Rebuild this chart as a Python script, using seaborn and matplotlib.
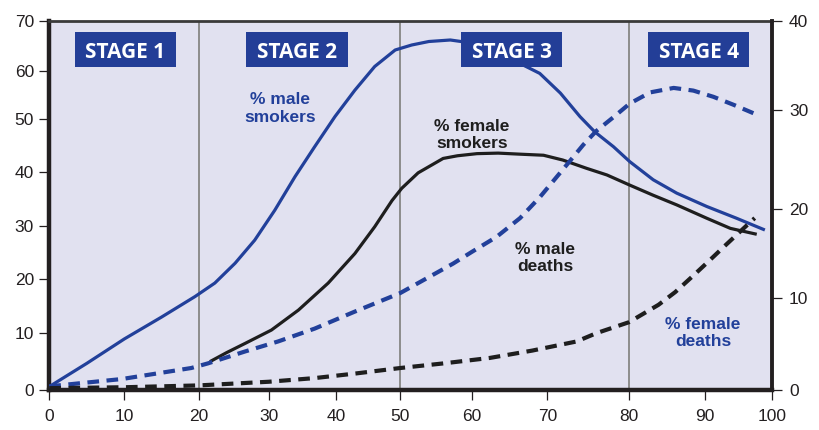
import numpy as np
import pandas as pd
import matplotlib
matplotlib.use("Agg")
import matplotlib.pyplot as plt
import seaborn as sns
from matplotlib.patches import Rectangle

# ---------------- data ----------------
male_smokers_x = [0, 5, 10, 15, 19.5, 22.3, 25.2, 28.0, 30.9, 33.9, 36.8, 39.8, 42.9, 46.0, 49.2, 51.6, 54, 57, 60, 62, 64, 66.4,
                  69.0, 71.6, 74.0, 75.8, 78.1, 80.1, 83.2, 86.3, 90.3, 94.7, 98.9]
male_smokers_y = [0.6, 4.7, 9.0, 13.0, 16.8, 19.3, 23.0, 27.3, 32.9, 39.2, 44.8, 50.5, 56.0, 60.9, 64.2, 65.2, 65.9, 66.2, 65.6, 64.8, 63.6, 61.5,
                  59.5, 55.4, 50.5, 47.6, 44.8, 42.0, 38.6, 36.1, 33.6, 31.4, 29.2]

female_smokers_x = [21.6, 24, 26.6, 30.4, 34.4, 38.8, 42.9, 46.0, 48.7, 50.2, 52.5, 56, 58, 60.7, 63.5, 66.4, 69.5, 71.9, 74.8, 77.3,
                    80.1, 83.2, 86.3, 90.3, 93.8, 97.7]
female_smokers_y = [5.0, 6.6, 8.2, 10.6, 14.3, 19.3, 24.8, 29.8, 34.7, 37.0, 39.9, 42.6, 43.1, 43.5, 43.6, 43.4, 43.2, 42.3, 40.75, 39.5,
                    37.6, 35.7, 33.9, 31.4, 29.5, 28.4]

male_deaths_x = [0, 9.7, 19, 21.3, 26.6, 31.4, 36.8, 42.7, 50, 57.4, 60, 63.3, 66.4, 69.0, 71.9, 74.4, 76.0, 78.1, 80.1, 82.8, 85.9,
                 88.5, 91.3, 94.3, 97.2]
male_deaths_y = [0.4, 1.2, 2.4, 2.9, 4.2, 5.3, 6.7, 8.5, 10.6, 13.9, 15.2, 16.9, 19.0, 21.2, 24.0, 26.5, 27.9, 29.3, 30.75, 32.0, 32.5,
                 32.2, 31.5, 30.6, 29.7]

female_deaths_x = [0, 10, 20, 25, 30, 36.8, 43, 50, 56, 62.4, 68, 73.6, 76, 80, 83.9, 86.1, 88.3, 90.5, 93, 95.4, 97.4]
female_deaths_y = [0.2, 0.3, 0.5, 0.7, 0.9, 1.3, 1.8, 2.4, 2.9, 3.5, 4.3, 5.3, 6.2, 7.4, 9.3, 10.7, 12.4, 14.1, 15.9, 17.6, 19.0]

x_ticks = [0, 10, 20, 30, 40, 50, 60, 70, 80, 90, 100]
left_ticks = [0, 10, 20, 30, 40, 50, 60, 70]
right_ticks = [0, 10, 20, 30, 40]
stage_lines = [20, 50, 80]
stage_labels = ["STAGE 1", "STAGE 2", "STAGE 3", "STAGE 4"]

# ---------------- style / layout ----------------
BLUE = "#22409A"
BOX = "#233E97"
BLACK = "#1E1E1E"
BG = "#E1E1F0"

# the printed axes are hand-drawn with uneven tick spacing: pixel positions of ticks
x_tick_px = [49.3, 124.3, 198.7, 268.7, 336.3, 400.3, 471.7, 547.3, 629.0, 704.7, 772.3]
left_tick_h = [0, 56.7, 110.7, 164.3, 217.7, 271.0, 319.0, 369.0]
right_tick_h = [0, 91.7, 181.0, 280.0, 369.3]


def piecewise(src, dst):
    src = np.asarray(src, float)
    dst = np.asarray(dst, float)
    s0 = (dst[1] - dst[0]) / (src[1] - src[0])
    s1 = (dst[-1] - dst[-2]) / (src[-1] - src[-2])
    xs = np.r_[src[0] - 1e4, src, src[-1] + 1e4]
    ys = np.r_[dst[0] - 1e4 * s0, dst, dst[-1] + 1e4 * s1]
    return lambda v: np.interp(np.asarray(v, float), xs, ys)


sns.set_style("ticks")
plt.rcParams["font.family"] = ["Liberation Sans", "DejaVu Sans"]

fig = plt.figure(figsize=(8.2, 4.3), dpi=100)
ax = fig.add_axes([49.3 / 820, 40 / 430, 723 / 820, 369 / 430])
ax.set_xscale("function", functions=(piecewise(x_ticks, x_tick_px), piecewise(x_tick_px, x_ticks)))
ax.set_yscale("function", functions=(piecewise(left_ticks, left_tick_h), piecewise(left_tick_h, left_ticks)))
ax.set_facecolor(BG)

ax2 = ax.twinx()
ax2.set_yscale("function", functions=(piecewise(right_ticks, right_tick_h), piecewise(right_tick_h, right_ticks)))

for xv in stage_lines:
    ax.axvline(xv, color="#8C8C8C", lw=1.4, zorder=1)

ms = pd.DataFrame({"x": male_smokers_x, "y": male_smokers_y})
fs = pd.DataFrame({"x": female_smokers_x, "y": female_smokers_y})
md = pd.DataFrame({"x": male_deaths_x, "y": male_deaths_y})
fd = pd.DataFrame({"x": female_deaths_x, "y": female_deaths_y})

solid_kw = dict(lw=2.3, errorbar=None, zorder=3, solid_joinstyle="round", solid_capstyle="butt")
dash_kw = dict(lw=3.0, errorbar=None, zorder=3, linestyle=(0, (2.8, 1.8)), dash_joinstyle="round")
sns.lineplot(data=ms, x="x", y="y", ax=ax, color=BLUE, **solid_kw)
sns.lineplot(data=fs, x="x", y="y", ax=ax, color=BLACK, **solid_kw)
sns.lineplot(data=md, x="x", y="y", ax=ax2, color=BLUE, **dash_kw)
sns.lineplot(data=fd, x="x", y="y", ax=ax2, color=BLACK, **dash_kw)

ax.set_xlim(0, 100)
ax.set_ylim(0, 70)
ax2.set_ylim(0, 40)
ax.set_xticks(x_ticks)
ax.set_xticklabels([str(t) for t in x_ticks])
ax.set_yticks(left_ticks)
ax.set_yticklabels([str(t) for t in left_ticks])
ax2.set_yticks(right_ticks)
ax2.set_yticklabels([str(t) for t in right_ticks])
ax.minorticks_off()
ax2.minorticks_off()
ax.set_xlabel("")
ax.set_ylabel("")
ax2.set_ylabel("")

tick_c = "#231F20"
ax.tick_params(axis="x", direction="out", length=7, width=0.9, pad=7, labelsize=12.5, colors=tick_c)
ax.tick_params(axis="y", direction="out", length=7, width=0.9, pad=4, labelsize=12.5, colors=tick_c)
ax2.tick_params(axis="y", direction="out", length=7, width=0.9, pad=5, labelsize=12.5, colors=tick_c)

for s in ["left", "bottom"]:
    ax.spines[s].set_linewidth(3.2)
    ax.spines[s].set_color(tick_c)
ax.spines["top"].set_linewidth(2.0)
ax.spines["top"].set_color("#3A3A3A")
ax.spines["right"].set_visible(False)
for s in ["left", "bottom", "top"]:
    ax2.spines[s].set_visible(False)
ax2.spines["right"].set_linewidth(2.8)
ax2.spines["right"].set_color(tick_c)

# curve labels
lab_kw = dict(ha="center", va="center", fontsize=12.5, fontweight="bold", linespacing=1.2, zorder=6)
ax.text(31.7, 52.2, "% male\nsmokers", color=BLUE, **lab_kw)
ax.text(60.0, 47.0, "% female\nsmokers", color=BLACK, **lab_kw)
ax2.text(69.7, 14.5, "% male\ndeaths", color=BLACK, **lab_kw)
ax2.text(89.8, 6.2, "% female\ndeaths", color=BLUE, **lab_kw)

# stage boxes
box_cx = [0.1051, 0.3426, 0.6397, 0.8986]
box_w, box_y0, box_h = 0.1397, 0.876, 0.093
for cx, lab in zip(box_cx, stage_labels):
    ax2.add_patch(Rectangle((cx - box_w / 2, box_y0), box_w, box_h, transform=ax2.transAxes,
                            facecolor=BOX, edgecolor="none", zorder=8, clip_on=False))
    ax2.text(cx, 0.899, lab, transform=ax2.transAxes, ha="center", va="baseline",
             color="white", fontsize=15, fontweight="bold", family=["Open Sans", "DejaVu Sans"],
             zorder=9)

fig.savefig("out.png", dpi=100)
